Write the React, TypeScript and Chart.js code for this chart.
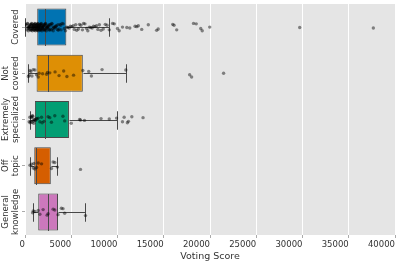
import React, { useEffect, useRef } from 'react';
import { Chart, registerables } from 'chart.js';

Chart.register(...registerables);

const CATEGORIES = ['Covered', 'Not covered', 'Extremely specialized', 'Off topic', 'General knowledge'];
const LABEL_LINES = [['Covered'], ['Not', 'covered'], ['Extremely', 'specialized'], ['Off', 'topic'], ['General', 'knowledge']];

// box statistics
const Q1 = [1320, 1250, 1070, 1000, 1430];
const MEDIAN = [2180, 2470, 2180, 1180, 2500];
const Q3 = [4470, 6250, 4750, 2790, 3570];
const WHISKER_LOW = [40, 360, 540, 540, 890];
const WHISKER_HIGH = [9040, 10900, 9900, 3500, 6540];

// individual observations (strip plot)
const COVERED = [
  40, 130, 210, 260, 300, 330, 360, 390, 410, 450, 470, 490, 520, 550, 580, 610, 640, 660, 680, 700,
  720, 740, 770, 790, 810, 830, 850, 870, 880, 910, 930, 950, 980, 1000, 1010, 1030, 1050, 1070, 1090,
  1110, 1130, 1150, 1170, 1190, 1210, 1220, 1240, 1260, 1280, 1300, 1320, 1330, 1350, 1370, 1390, 1400,
  1420, 1440, 1460, 1480, 1510, 1530, 1560, 1580, 1590, 1610, 1630, 1650, 1680, 1700, 1720, 1750, 1770,
  1800, 1830, 1850, 1870, 1890, 1930, 1960, 1990, 2010, 2040, 2070, 2090, 2130, 2150, 2180, 2210, 2230,
  2280, 2310, 2340, 2390, 2420, 2450, 2490, 2520, 2580, 2610, 2650, 2700, 2730, 2780, 2860, 2890, 2930,
  3010, 3050, 3090, 3150, 3240, 3280, 3330, 3410, 3500, 3560, 3600, 3680, 3790, 3850, 3900, 4010, 4130,
  4260, 4380, 4490,
  4620, 4780, 4900, 5060, 5210, 5330, 5480, 5590, 5770, 5890, 6040, 6210, 6330, 6480, 6660, 6790, 6950,
  7120, 7260, 7410, 7560, 7730, 7880, 8040, 8220, 8460, 8680, 8870, 9110,
  9470, 9650, 10000, 10180, 10540, 11010, 11330, 11900, 12080, 12250, 12620, 13330, 14230, 14400,
  15970, 16110, 16400, 18220, 18510, 19000, 19160, 19970, 29700, 37660,
];
const NOT_COVERED = [
  370, 460, 540, 640, 750, 890, 1070, 1250, 1430, 1530, 1900, 2330, 2430, 2680, 3250, 3680, 4180,
  4530, 5250, 6250, 6890, 7180, 8330, 10900, 17800, 18010, 21470,
];
const EXTREMELY_SPECIALIZED = [
  450, 520, 560, 620, 680, 720, 760, 800, 850, 900, 940, 980, 1050, 1120, 1200, 1300, 1430, 1610,
  1790, 1850, 2050, 2500, 2680, 2860, 3220, 4100, 4290, 5000, 5900, 6000, 6430, 8220, 9110, 9900,
  10540, 10720, 11070, 11180, 11550, 12760,
];
const OFF_TOPIC = [540, 720, 890, 960, 1070, 1250, 1430, 1790, 2860, 3040, 3220, 3500, 6000];
const GENERAL_KNOWLEDGE = [820, 890, 1070, 1430, 1610, 1960, 2390, 2500, 3040, 3220, 3570, 3930, 4110, 4290, 6540];

const POINTS = [COVERED, NOT_COVERED, EXTREMELY_SPECIALIZED, OFF_TOPIC, GENERAL_KNOWLEDGE];
const X_TICKS = [0, 5000, 10000, 15000, 20000, 25000, 30000, 35000, 40000];

// styling
const COLORS = ['#0173B2', '#DE8F05', '#029E73', '#D55E00', '#CC78BC'];
const EDGE = 'rgb(72,72,72)';
const JITTER = [-0.06, 0.03, -0.02, 0.07, -0.08, 0.01, 0.05, -0.04, 0.08, -0.01, 0.04, -0.07, 0.02, -0.05, 0.06, 0.0, -0.03];
const FONT = '"DejaVu Sans", sans-serif';

export default function App() {
  const ref = useRef<HTMLCanvasElement>(null);

  useEffect(() => {
    const canvas = ref.current;
    if (!canvas) return;

    const boxData = CATEGORIES.map((_, i) => ({ x: [Q1[i], Q3[i]], y: i }));
    const pointData = POINTS.flatMap((vals, i) =>
      vals.map((v, j) => ({ x: v, y: i + JITTER[(j * 7 + i * 3) % JITTER.length] }))
    );

    const bgPlugin = {
      id: 'bg',
      beforeDraw(chart: any) {
        const { ctx, chartArea: a } = chart;
        ctx.save();
        ctx.fillStyle = '#E5E5E5';
        ctx.fillRect(a.left, a.top, a.right - a.left, a.bottom - a.top);
        ctx.restore();
      },
    };

    const whiskerPlugin = {
      id: 'whiskers',
      afterDatasetDraw(chart: any, args: any) {
        if (args.meta.type !== 'bar') return;
        const { ctx } = chart;
        const xs = chart.scales.x;
        const ys = chart.scales.y;
        ctx.save();
        ctx.strokeStyle = EDGE;
        ctx.lineWidth = 1;
        const line = (x1: number, y1: number, x2: number, y2: number) => {
          ctx.beginPath();
          ctx.moveTo(x1, y1);
          ctx.lineTo(x2, y2);
          ctx.stroke();
        };
        CATEGORIES.forEach((_, i) => {
          const yc = Math.round(ys.getPixelForValue(i)) + 0.5;
          const capH = Math.abs(ys.getPixelForValue(i + 0.2) - ys.getPixelForValue(i));
          const boxH = Math.abs(ys.getPixelForValue(i + 0.4) - ys.getPixelForValue(i));
          const px = (v: number) => Math.round(xs.getPixelForValue(v)) + 0.5;
          line(px(WHISKER_LOW[i]), yc, px(Q1[i]), yc);
          line(px(Q3[i]), yc, px(WHISKER_HIGH[i]), yc);
          line(px(WHISKER_LOW[i]), yc - capH, px(WHISKER_LOW[i]), yc + capH);
          line(px(WHISKER_HIGH[i]), yc - capH, px(WHISKER_HIGH[i]), yc + capH);
          line(px(MEDIAN[i]), yc - boxH, px(MEDIAN[i]), yc + boxH);
        });
        ctx.restore();
      },
    };

    const labelPlugin = {
      id: 'ylabels',
      afterDraw(chart: any) {
        const { ctx } = chart;
        const ys = chart.scales.y;
        ctx.save();
        ctx.font = `8.5px ${FONT}`;
        ctx.fillStyle = '#333';
        ctx.textAlign = 'center';
        ctx.textBaseline = 'middle';
        LABEL_LINES.forEach((lines, i) => {
          const yc = ys.getPixelForValue(i);
          const n = lines.length;
          lines.forEach((txt, k) => {
            const xk = 16.2 - (n - 1 - k) * 10;
            ctx.save();
            ctx.translate(xk, yc);
            ctx.rotate(-Math.PI / 2);
            ctx.fillText(txt, 0, 0);
            ctx.restore();
          });
        });
        ctx.restore();
      },
    };

    const chart = new Chart(canvas, {
      type: 'bar',
      data: {
        datasets: [
          {
            type: 'bar',
            indexAxis: 'y',
            data: boxData as any,
            backgroundColor: COLORS,
            borderColor: EDGE,
            borderWidth: 1,
            borderSkipped: false,
            categoryPercentage: 1,
            barPercentage: 0.8,
            order: 2,
          } as any,
          {
            type: 'scatter',
            data: pointData as any,
            pointRadius: 1.7,
            pointBackgroundColor: 'rgba(0,0,0,0.45)',
            pointBorderWidth: 0,
            pointBorderColor: 'rgba(0,0,0,0)',
            order: 1,
          } as any,
        ],
      },
      options: {
        indexAxis: 'y',
        animation: false,
        responsive: false,
        events: [],
        layout: { padding: { left: 0, right: 1, top: 0, bottom: 0 } },
        plugins: { legend: { display: false }, tooltip: { enabled: false } },
        scales: {
          x: {
            type: 'linear',
            position: 'bottom',
            min: 0,
            max: 40000,
            offset: false,
            afterBuildTicks: (s: any) => {
              s.ticks = X_TICKS.map((v) => ({ value: v }));
            },
            afterFit: (s: any) => {
              s.height = 27;
            },
            ticks: {
              align: 'end',
              padding: 2,
              color: '#333',
              font: { family: FONT, size: 8.5 },
              maxRotation: 0,
              minRotation: 0,
              callback: (v: any) => String(v),
            },
            grid: { offset: false, color: '#FFFFFF', lineWidth: 1, tickLength: 3, tickColor: '#AAAAAA', drawTicks: true },
            border: { display: false },
            title: {
              display: true,
              text: 'Voting Score',
              color: '#333',
              font: { family: FONT, size: 9.5 },
              padding: { top: 0, bottom: 0 },
            },
          },
          y: {
            type: 'linear',
            position: 'left',
            min: -0.5,
            max: 4.5,
            reverse: true,
            offset: false,
            afterBuildTicks: (s: any) => {
              s.ticks = CATEGORIES.map((_, i) => ({ value: i }));
            },
            afterFit: (s: any) => {
              s.width = 25;
            },
            ticks: { display: false },
            grid: { offset: false, drawOnChartArea: false, drawTicks: true, tickLength: 3, tickColor: '#AAAAAA' },
            border: { display: false },
          },
        },
      } as any,
      plugins: [bgPlugin, whiskerPlugin, labelPlugin],
    });

    return () => chart.destroy();
  }, []);

  return (
    <div style={{ position: 'absolute', left: 0, top: 0, width: 399, height: 262 }}>
      <canvas ref={ref} width={399} height={262} style={{ display: 'block', width: 399, height: 262 }} />
    </div>
  );
}
